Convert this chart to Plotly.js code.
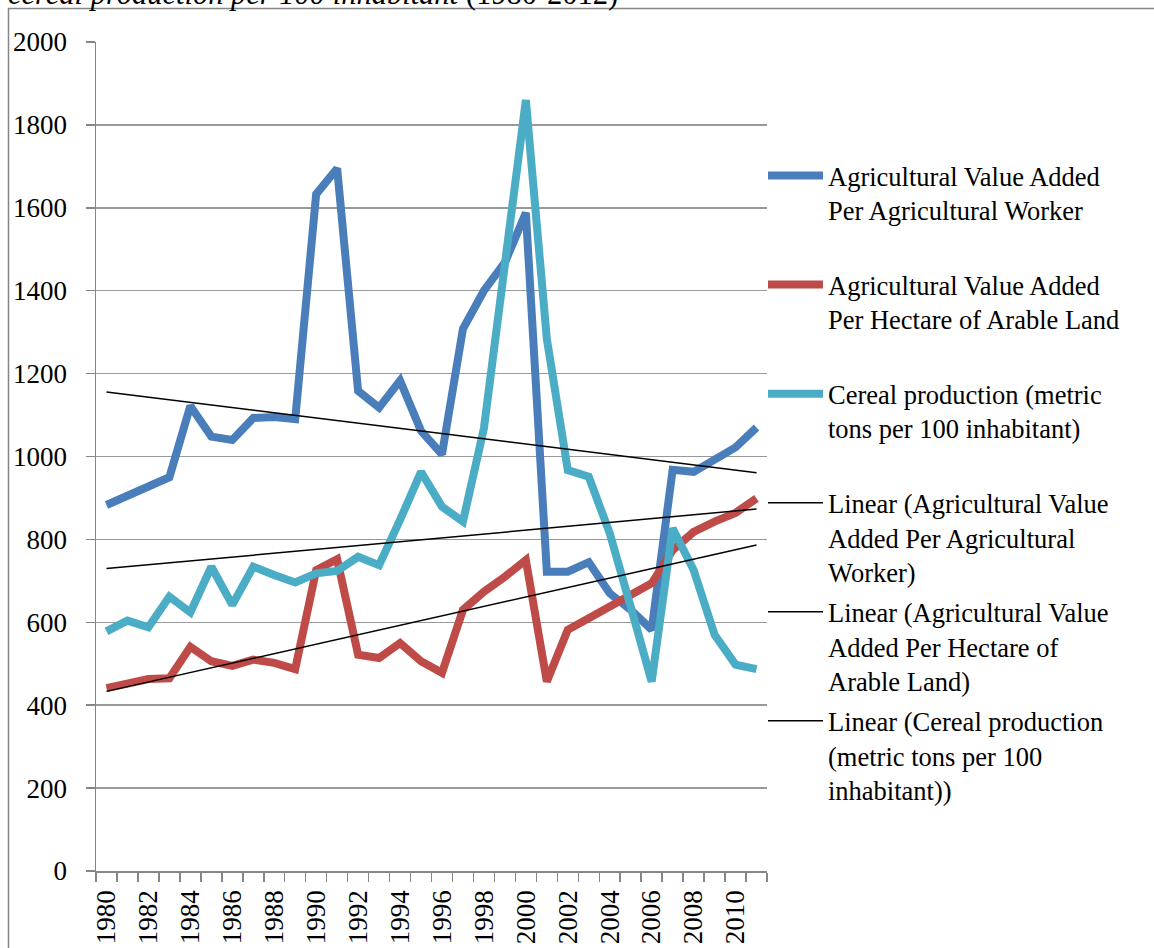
<!DOCTYPE html>
<html>
<head>
<meta charset="utf-8">
<script src="https://cdn.plot.ly/plotly-3.0.1.min.js"></script>
<style>
  html, body { margin: 0; padding: 0; background: #fff; overflow: hidden; }
  #chart { width: 1154px; height: 948px; }
</style>
</head>
<body>
<div id="chart"></div>
<script>
// ---- data ----
const years = [1980,1981,1982,1983,1984,1985,1986,1987,1988,1989,1990,1991,1992,1993,1994,1995,
               1996,1997,1998,1999,2000,2001,2002,2003,2004,2005,2006,2007,2008,2009,2010,2011];

const valuePerWorker = [883,906,932,950,1122,1048,1040,1093,1095,1090,1633,1695,1158,1118,1183,1062,
                        1005,1308,1400,1468,1588,722,722,745,670,630,582,968,963,995,1022,1070];

const valuePerHectare = [441,452,463,465,541,506,495,510,502,487,726,752,522,514,550,506,
                         478,630,674,710,750,457,582,610,638,664,694,774,818,843,864,899];

const cerealPer100 = [578,604,588,662,624,734,642,734,714,696,718,724,758,738,847,963,
                      879,843,1068,1450,1860,1284,967,951,815,638,457,827,726,570,498,487];

const seriesNames = [
  "Agricultural Value Added<br>Per Agricultural Worker<br>&nbsp;",
  "Agricultural Value Added<br>Per Hectare of Arable Land<br>&nbsp;",
  "Cereal production (metric<br>tons per 100 inhabitant)<br>&nbsp;"
];
const trendNames = [
  "Linear (Agricultural Value<br>Added Per Agricultural<br>Worker)",
  "Linear (Agricultural Value<br>Added Per Hectare of<br>Arable Land)",
  "Linear (Cereal production<br>(metric tons per 100<br>inhabitant))"
];
const seriesColors = ["#4A7EBB", "#BE4B48", "#4BACC6"];
const captionText = "<i>cereal production per 100 inhabitant</i> (1980-2012)";

// least-squares linear trend, evaluated at each year
function linearTrend(xs, ys) {
  const n = xs.length;
  const mx = xs.reduce((a, b) => a + b, 0) / n;
  const my = ys.reduce((a, b) => a + b, 0) / n;
  let sxy = 0, sxx = 0;
  for (let i = 0; i < n; i++) { sxy += (xs[i] - mx) * (ys[i] - my); sxx += (xs[i] - mx) ** 2; }
  const b = sxy / sxx, a = my - b * mx;
  return xs.map(x => a + b * x);
}

const allSeries = [valuePerWorker, valuePerHectare, cerealPer100];
const traces = [];
allSeries.forEach((s, i) => {
  traces.push({
    x: years, y: s, type: "scatter", mode: "lines",
    name: seriesNames[i], legendgroup: "g" + i,
    line: { color: seriesColors[i], width: 8 },
    hoverinfo: "skip"
  });
});
allSeries.forEach((s, i) => {
  traces.push({
    x: years, y: linearTrend(years, s), type: "scatter", mode: "lines",
    name: trendNames[i], legendgroup: "t" + i,
    line: { color: "#000000", width: 1.5 },
    hoverinfo: "skip"
  });
});

const FONT = "Liberation Serif, Times New Roman, serif";
const AXC = "#868686";

const layout = {
  width: 1154, height: 948,
  margin: { l: 96, r: 387, t: 42, b: 77, pad: 0 },
  paper_bgcolor: "#ffffff", plot_bgcolor: "#ffffff",
  font: { family: FONT, size: 26, color: "#000000" },
  showlegend: true,
  legend: {
    x: 1.0 - 4 / 671, xanchor: "left", y: 0.8675, yanchor: "top",
    traceorder: "grouped", tracegroupgap: 2.7, valign: "top",
    itemwidth: 55, bgcolor: "rgba(0,0,0,0)",
    font: { family: FONT, size: 26.5, color: "#000000" }
  },
  xaxis: {
    type: "linear", range: [1979.5, 2011.5],
    tick0: 1980, dtick: 2, ticks: "", tickangle: -90,
    showgrid: false, zeroline: false,
    showline: true, linecolor: AXC, linewidth: 1.5,
    ticklabelstandoff: 7,
    tickfont: { family: FONT, size: 27, color: "#000000" },
    minor: { tick0: 1979.5, dtick: 1, ticks: "outside", ticklen: 9, tickcolor: AXC, tickwidth: 1.5, showgrid: false }
  },
  yaxis: {
    range: [0, 2000], dtick: 200, tick0: 0,
    ticks: "outside", ticklen: 9, tickcolor: AXC, tickwidth: 1.5,
    showgrid: true, gridcolor: "#999999", gridwidth: 1.5,
    zeroline: false, showline: true, linecolor: AXC, linewidth: 1.5,
    ticklabelstandoff: 13,
    tickfont: { family: FONT, size: 27, color: "#000000" }
  },
  shapes: [{
    type: "rect", xref: "paper", yref: "paper",
    x0: (8.5 - 96) / 671, x1: 2, y0: -1, y1: (871 - 8.5) / 829,
    line: { color: AXC, width: 1.5 }, fillcolor: "rgba(0,0,0,0)", layer: "below"
  }],
  annotations: [{
    text: captionText, xref: "paper", yref: "paper",
    x: (6 - 96) / 671, xanchor: "left",
    y: (871 - 13) / 829, yanchor: "bottom",
    showarrow: false, font: { family: FONT, size: 30.5, color: "#000000" }
  }]
};

Plotly.newPlot("chart", traces, layout, { displayModeBar: false, staticPlot: true });
</script>
</body>
</html>
